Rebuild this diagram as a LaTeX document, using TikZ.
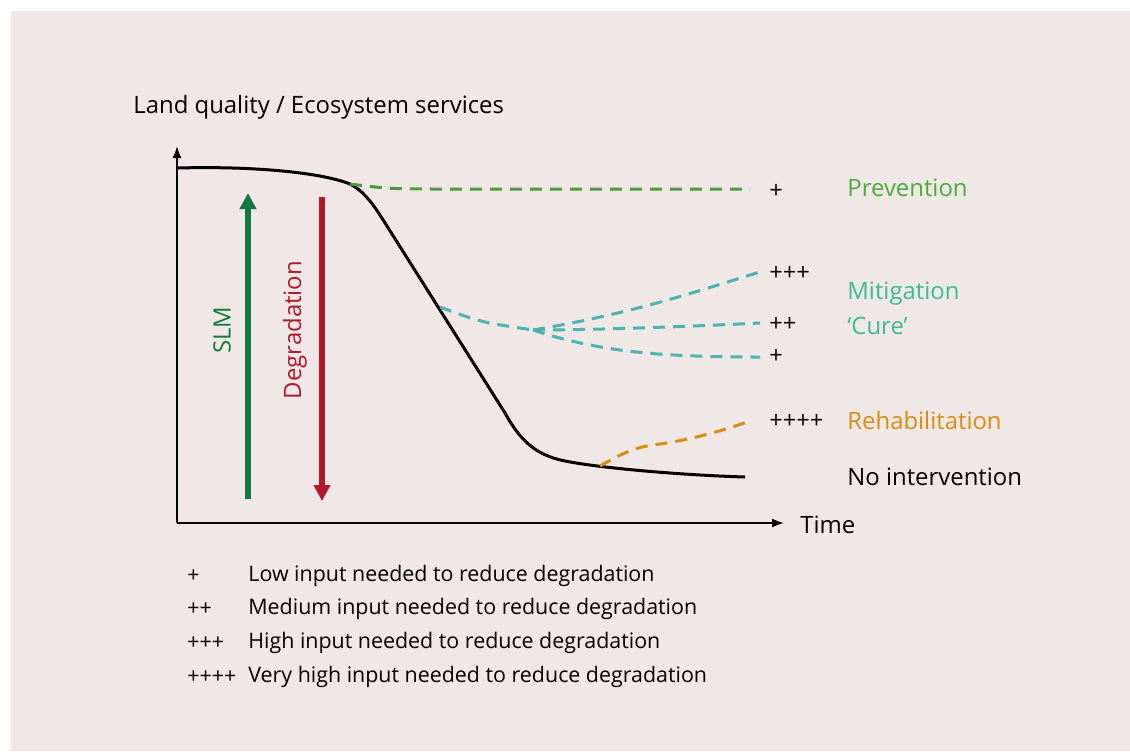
\documentclass[tikz,border=0pt]{standalone}
\usepackage{fontspec}
\setmainfont{Open Sans}
\usetikzlibrary{arrows.meta}

\definecolor{bgpink}{HTML}{F0E8E6}
\definecolor{prevgreen}{HTML}{4E9A3A}
\definecolor{prevtext}{HTML}{4DAA3C}
\definecolor{mitteal}{HTML}{4DB3AE}
\definecolor{mittext}{HTML}{3DBB98}
\definecolor{rehaborange}{HTML}{D98E12}
\definecolor{slmgreen}{HTML}{127A3E}
\definecolor{degred}{HTML}{B3172B}

\tikzset{
  lbl/.style={inner sep=0pt, anchor=west, font=\fontsize{11.95}{14}\selectfont},
  plus/.style={inner sep=0pt, anchor=west, font=\fontsize{11.8}{13}\selectfont},
  legend/.style={inner sep=0pt, anchor=west, font=\fontsize{10.7}{13}\selectfont},
  scenario/.style={line width=1.5pt, dash pattern=on 6pt off 4pt},
  bigarrow/.style={line width=3pt, -{Triangle[width=8pt,length=8pt]}}
}

\begin{document}
\begin{tikzpicture}[x=0.5pt,y=-0.5pt]
\useasboundingbox (0,0) rectangle (1130,751);
\fill[bgpink] (11,11) rectangle (1130,751);

% axes
\coordinate (origin) at (177,523);
\coordinate (ytop) at (177,146);
\coordinate (xend) at (784,523);
\draw[line width=0.9pt,-{Latex[length=6pt,width=4.5pt]}] (origin) -- (ytop);
\draw[line width=0.9pt,-{Latex[length=6pt,width=4.5pt]}] (origin) -- (xend);
\node[lbl] (ylabel) at (133,107) {Land quality / Ecosystem services};
\node[lbl] (time) at (800,525) {Time};

% no intervention
\coordinate (start) at (178,168);
\coordinate (bend) at (350,184);
\coordinate (steep) at (380,215);
\coordinate (foot) at (505,413);
\coordinate (knee) at (565,461);
\coordinate (end) at (745,477);
\draw[line width=1.5pt] (start) .. controls (250,166) and (320,172) .. (bend)
  .. controls (362,190) and (370,200) .. (steep) -- (foot)
  .. controls (520,440) and (535,455) .. (knee)
  .. controls (600,468) and (680,475) .. (end);

% prevention
\coordinate (prev) at (750,189);
\draw[scenario,prevgreen] (bend) .. controls (390,189) .. (450,189) -- (prev);

% mitigation
\coordinate (mstart) at (440,307);
\coordinate (msplit) at (533,330);
\coordinate (m3) at (760,272);
\coordinate (m2) at (760,323);
\coordinate (m1) at (760,357);
\draw[scenario,mitteal] (mstart) .. controls (480,322) .. (msplit);
\draw[scenario,mitteal] (msplit) .. controls (640,312) and (700,290) .. (m3);
\draw[scenario,mitteal] (msplit) .. controls (600,330) and (700,326) .. (m2);
\draw[scenario,mitteal] (msplit) .. controls (600,352) and (660,357) .. (m1);

% rehabilitation
\coordinate (rstart) at (600,466);
\coordinate (rmid) at (660,444);
\coordinate (rend) at (750,421);
\draw[scenario,rehaborange] (rstart) .. controls (625,452) and (635,447) .. (rmid)
  .. controls (700,438) and (730,428) .. (rend);

% SLM and degradation
\coordinate (slmlow) at (248,499);
\coordinate (slmtop) at (248,193);
\coordinate (degtop) at (322,197);
\coordinate (deglow) at (322,501);
\draw[bigarrow,slmgreen] (slmlow) -- (slmtop);
\draw[bigarrow,degred] (degtop) -- (deglow);
\node[lbl,anchor=center,rotate=90,text=slmgreen] (slm) at (222,330) {SLM};
\node[lbl,anchor=center,rotate=90,text=degred] (deg) at (295,330) {Degradation};

% input labels
\node[plus] (p1) at (769,191) {+};
\node[plus] (p3) at (769,273) {+++};
\node[plus] (p2) at (769,324) {++};
\node[plus] (p1b) at (769,356) {+};
\node[plus] (p4) at (769,421) {++++};

\node[lbl,text=prevtext] (prevention) at (847,188) {Prevention};
\node[lbl,text=mittext] (mitigation) at (847,294) {Mitigation};
\node[lbl,text=mittext] (cure) at (847,326) {‘Cure’};
\node[lbl,text=rehaborange] (rehab) at (847,421) {Rehabilitation};
\node[lbl] (none) at (847,477) {No intervention};

% legend
\node[legend] (k1) at (187,576) {+};
\node[legend] (k2) at (187,609) {++};
\node[legend] (k3) at (187,643) {+++};
\node[legend] (k4) at (187,677) {++++};
\node[legend] (t1) at (248,576) {Low input needed to reduce degradation};
\node[legend] (t2) at (248,609) {Medium input needed to reduce degradation};
\node[legend] (t3) at (248,643) {High input needed to reduce degradation};
\node[legend] (t4) at (248,677) {Very high input needed to reduce degradation};
\end{tikzpicture}
\end{document}
